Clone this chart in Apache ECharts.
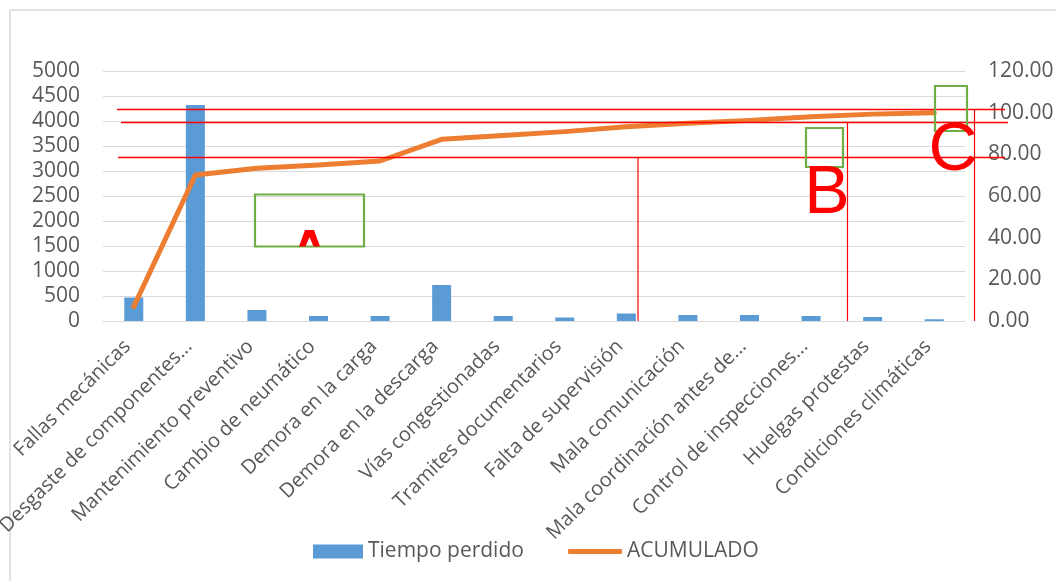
<!DOCTYPE html>
<html>
<head>
<meta charset="utf-8">
<script src="https://cdn.jsdelivr.net/npm/echarts@6/dist/echarts.min.js"></script>
<style>
html,body{margin:0;padding:0;background:#fff;}
#chart{width:1056px;height:581px;}
</style>
</head>
<body>
<div id="chart"></div>
<script>
var categories = [
  'Fallas mecánicas',
  'Desgaste de componentes...',
  'Mantenimiento preventivo',
  'Cambio de neumático',
  'Demora en la carga',
  'Demora en la descarga',
  'Vías congestionadas',
  'Tramites documentarios',
  'Falta de supervisión',
  'Mala comunicación',
  'Mala coordinación antes de...',
  'Control de inspecciones...',
  'Huelgas protestas',
  'Condiciones climáticas'
];
var tiempoPerdido = [470, 4320, 220, 100, 100, 720, 100, 70, 150, 120, 120, 100, 80, 35];
var acumulado = [6.9, 70.1, 73.3, 74.9, 76.8, 87.2, 89.0, 90.9, 93.2, 94.9, 96.3, 98.0, 99.3, 100.0];
var leftTicks = {min: 0, max: 5000, interval: 500};
var rightTicks = {min: 0, max: 120, interval: 20};

var FONT = '"Open Sans", sans-serif';
var TXT = '#595959';
var RED = '#FF0000';
var GREEN = '#70AD47';

var chart = echarts.init(document.getElementById('chart'), null, {renderer: 'canvas'});

function hline(x1, x2, y) {
  return {type: 'line', z: 100, shape: {x1: x1, y1: y, x2: x2, y2: y}, style: {stroke: RED, lineWidth: 1.4}};
}
function vline(x, y1, y2) {
  return {type: 'line', z: 100, shape: {x1: x, y1: y1, x2: x, y2: y2}, style: {stroke: RED, lineWidth: 1.2}};
}
function box(x, y, w, h) {
  return {type: 'rect', z: 100, shape: {x: x, y: y, width: w, height: h}, style: {fill: 'none', stroke: GREEN, lineWidth: 2.2}};
}
function letter(t, x, y) {
  return {type: 'text', z: 101, x: x, y: y, style: {text: t, fill: RED, font: '68px "Liberation Sans", Arial, sans-serif', textAlign: 'center', textVerticalAlign: 'top'}};
}

var legendText = {color: TXT, fontSize: 21, fontFamily: FONT};

var option = {
  animation: false,
  backgroundColor: '#ffffff',
  textStyle: {fontFamily: FONT},
  grid: {left: 103, right: 91, top: 71, bottom: 260, containLabel: false, outerBoundsMode: 'none'},
  legend: [
    {
      top: 536,
      left: 308,
      itemWidth: 50,
      itemHeight: 14,
      itemGap: 6,
      textStyle: legendText,
      data: [{name: 'Tiempo perdido', icon: 'rect'}]
    },
    {
      top: 536,
      left: 563,
      itemWidth: 54,
      itemHeight: 5,
      itemGap: 6,
      textStyle: legendText,
      data: [{name: 'ACUMULADO', icon: 'roundRect'}]
    }
  ],
  xAxis: {
    type: 'category',
    data: categories,
    axisTick: {show: false},
    axisLine: {show: true, lineStyle: {color: '#D9D9D9', width: 1}},
    axisLabel: {interval: 0, rotate: 45, margin: 16, padding: [0, 9, 0, 0], color: TXT, fontSize: 20, fontFamily: FONT}
  },
  yAxis: [
    {
      type: 'value',
      min: leftTicks.min, max: leftTicks.max, interval: leftTicks.interval,
      axisLine: {show: false},
      axisTick: {show: false},
      axisLabel: {margin: 23, color: TXT, fontSize: 21, fontFamily: FONT, formatter: function (v) { return String(v); }},
      splitLine: {lineStyle: {color: '#D9D9D9', width: 1}}
    },
    {
      type: 'value',
      min: rightTicks.min, max: rightTicks.max, interval: rightTicks.interval,
      axisLine: {show: false},
      axisTick: {show: false},
      splitLine: {show: false},
      axisLabel: {margin: 23, color: TXT, fontSize: 21, fontFamily: FONT, formatter: function (v) { return v.toFixed(2); }}
    }
  ],
  series: [
    {
      name: 'Tiempo perdido',
      type: 'bar',
      data: tiempoPerdido,
      barWidth: 19,
      itemStyle: {color: '#5B9BD5'}
    },
    {
      name: 'ACUMULADO',
      type: 'line',
      yAxisIndex: 1,
      data: acumulado,
      symbol: 'none',
      lineStyle: {color: '#ED7D31', width: 5, cap: 'round', join: 'round'},
      itemStyle: {color: '#ED7D31'}
    }
  ],
  graphic: [
    {type: 'rect', z: 0, shape: {x: 10, y: 10, width: 1100, height: 700}, style: {fill: 'none', stroke: '#D9D9D9', lineWidth: 1.5}},
    hline(117, 1005, 109.5),
    hline(121, 1008, 122.5),
    hline(118, 1005, 157.5),
    vline(638, 157.5, 321),
    vline(847.5, 122.5, 321),
    vline(974.5, 110, 321),
    box(255, 194.5, 109, 52),
    box(806, 128, 37, 39),
    box(935, 86, 32, 45),
    {type: 'polygon', z: 101, shape: {points: [[305, 230], [314, 230], [320, 246.5], [313.5, 246.5], [309.5, 237], [305.5, 246.5], [299, 246.5]]}, style: {fill: RED}},
    letter('B', 827, 160),
    letter('C', 953, 117)
  ]
};
chart.setOption(option);
</script>
</body>
</html>
